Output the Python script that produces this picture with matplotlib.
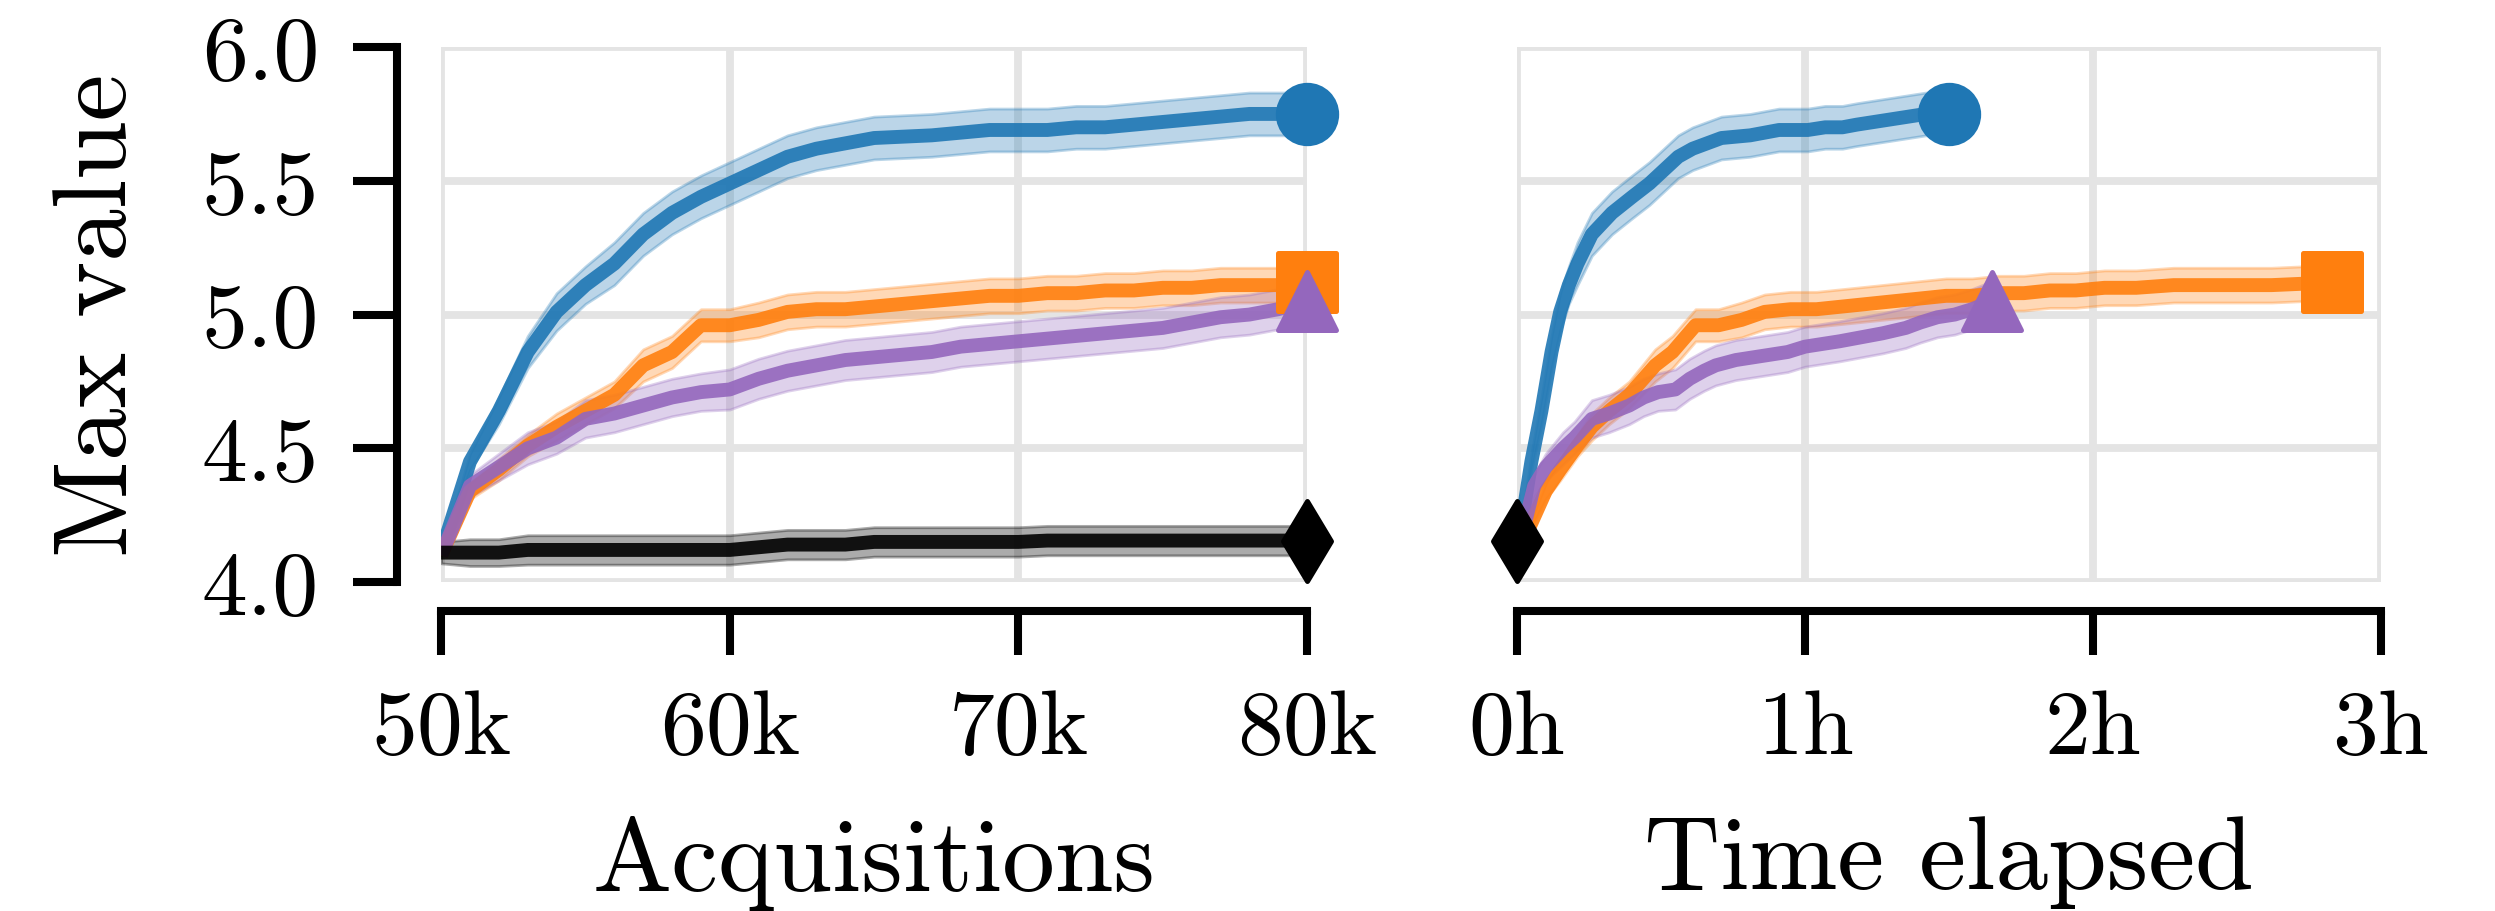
import numpy as np
import matplotlib.pyplot as plt
from matplotlib.markers import MarkerStyle

plt.rcParams['font.family'] = 'cmr10'
plt.rcParams['mathtext.fontset'] = 'cm'
plt.rcParams['axes.formatter.use_mathtext'] = True

# acquisitions (thousands)
acq_k = [50, 51, 52, 53, 54, 55, 56, 57, 58, 59, 60, 61, 62, 63, 64, 65,
         66, 67, 68, 69, 70, 71, 72, 73, 74, 75, 76, 77, 78, 79, 80]

# mean max value per method
blue = [4.11, 4.45, 4.64, 4.86, 5.01, 5.11, 5.19, 5.30, 5.38, 5.44, 5.49,
        5.54, 5.59, 5.62, 5.64, 5.66, 5.665, 5.67, 5.68, 5.69, 5.69, 5.69,
        5.70, 5.70, 5.71, 5.72, 5.73, 5.74, 5.75, 5.75, 5.75]
orange = [4.10, 4.34, 4.42, 4.51, 4.58, 4.64, 4.70, 4.81, 4.86, 4.96, 4.96,
          4.98, 5.01, 5.02, 5.02, 5.03, 5.04, 5.05, 5.06, 5.07, 5.07, 5.08,
          5.08, 5.09, 5.09, 5.10, 5.10, 5.11, 5.11, 5.11, 5.12]
purple = [4.10, 4.36, 4.43, 4.50, 4.54, 4.61, 4.63, 4.66, 4.69, 4.71, 4.72,
          4.76, 4.79, 4.81, 4.83, 4.84, 4.85, 4.86, 4.88, 4.89, 4.90, 4.91,
          4.92, 4.93, 4.94, 4.95, 4.97, 4.99, 5.00, 5.02, 5.05]
black = [4.11, 4.11, 4.11, 4.12, 4.12, 4.12, 4.12, 4.12, 4.12, 4.12, 4.12,
         4.13, 4.14, 4.14, 4.14, 4.15, 4.15, 4.15, 4.15, 4.15, 4.15, 4.155,
         4.155, 4.155, 4.155, 4.155, 4.155, 4.155, 4.155, 4.155, 4.155]

# spread (half width of shaded band)
blue_sd = [0.0, 0.03, 0.05, 0.06, 0.07, 0.07, 0.08, 0.08, 0.08, 0.08, 0.08,
           0.08, 0.08, 0.08, 0.08, 0.08, 0.08, 0.08, 0.08, 0.08, 0.08, 0.08,
           0.08, 0.08, 0.08, 0.08, 0.08, 0.08, 0.08, 0.08, 0.08]
orange_sd = [0.0, 0.03, 0.04, 0.04, 0.05, 0.05, 0.05, 0.06, 0.06, 0.06, 0.06,
             0.065, 0.065, 0.065, 0.065, 0.065, 0.065, 0.065, 0.065, 0.065,
             0.065, 0.065, 0.065, 0.065, 0.065, 0.065, 0.065, 0.065, 0.065,
             0.065, 0.065]
purple_sd = [0.0, 0.04, 0.05, 0.06, 0.06, 0.07, 0.07, 0.07, 0.07, 0.07, 0.075,
             0.075, 0.075, 0.075, 0.075, 0.075, 0.075, 0.075, 0.075, 0.075,
             0.075, 0.075, 0.075, 0.075, 0.075, 0.075, 0.075, 0.075, 0.075,
             0.075, 0.075]
black_sd = [0.04, 0.05, 0.05, 0.055, 0.055, 0.055, 0.055, 0.055, 0.055, 0.055,
            0.055, 0.055, 0.055, 0.055, 0.055, 0.055, 0.055, 0.055, 0.055,
            0.055, 0.055, 0.055, 0.055, 0.055, 0.055, 0.055, 0.055, 0.055,
            0.055, 0.055, 0.055]

# wall-clock hours at each acquisition count
blue_h = [0.0, 0.05, 0.085, 0.12, 0.15, 0.18, 0.21, 0.26, 0.33, 0.40, 0.46,
          0.51, 0.56, 0.61, 0.66, 0.71, 0.76, 0.81, 0.86, 0.91, 0.96, 1.01,
          1.07, 1.13, 1.18, 1.24, 1.30, 1.36, 1.42, 1.46, 1.50]
orange_h = [0.0, 0.10, 0.15, 0.21, 0.26, 0.32, 0.39, 0.48, 0.54, 0.62, 0.70,
            0.78, 0.86, 0.95, 1.04, 1.13, 1.22, 1.31, 1.40, 1.49, 1.58, 1.67,
            1.76, 1.85, 1.94, 2.04, 2.15, 2.28, 2.43, 2.62, 2.83]
purple_h = [0.0, 0.06, 0.10, 0.16, 0.20, 0.26, 0.32, 0.39, 0.44, 0.49, 0.55,
            0.60, 0.65, 0.69, 0.76, 0.82, 0.88, 0.94, 1.00, 1.06, 1.12, 1.17,
            1.22, 1.27, 1.31, 1.35, 1.40, 1.46, 1.52, 1.58, 1.65]
black_h = [0.0, 0.0, 0.0, 0.0, 0.0, 0.0, 0.0, 0.0, 0.0, 0.0, 0.0,
           0.0, 0.0, 0.0, 0.0, 0.0, 0.0, 0.0, 0.0, 0.0, 0.0, 0.0,
           0.0, 0.0, 0.0, 0.0, 0.0, 0.0, 0.0, 0.0, 0.0]

x_ticks = [50, 60, 70, 80]
x_labels = ['50k', '60k', '70k', '80k']
t_ticks = [0, 1, 2, 3]
t_labels = ['0h', '1h', '2h', '3h']
y_ticks = [4.0, 4.5, 5.0, 5.5, 6.0]

series = [
    (blue, blue_sd, blue_h, '#1f77b4', 'o'),
    (orange, orange_sd, orange_h, '#ff7f0e', 's'),
    (purple, purple_sd, purple_h, '#9467bd', '^'),
    (black, black_sd, black_h, 'black', 'd'),
]

fig = plt.figure(figsize=(12.475, 4.56), dpi=200)
ax1 = fig.add_axes([0.1768, 0.3607, 0.3471, 0.5866])
ax2 = fig.add_axes([0.6080, 0.3607, 0.3463, 0.5866])


def draw(ax, use_time):
    for mean, sd, hours, color, mk in series:
        mean = np.array(mean)
        sd = np.array(sd)
        x = np.array(hours) if use_time else np.array(acq_k)
        band_alpha = 0.33 if color == 'black' else 0.3
        ax.fill_between(x, mean - sd, mean + sd, color=color, alpha=band_alpha,
                        lw=1.0, zorder=2)
        ax.plot(x, mean, color=color, lw=5.0, alpha=0.9, zorder=3,
                solid_capstyle='butt')
        ms = 20.5 if mk == 'd' else 21
        ax.plot(x[-1], mean[-1], ls='none',
                marker=MarkerStyle(mk, joinstyle='round'),
                ms=ms, mew=1.8, color=color, mec=color, zorder=5, clip_on=False)

    ax.set_ylim(4.0, 6.0)
    ax.set_yticks(y_ticks)
    ax.grid(True, color='#e4e4e4', lw=2.8)
    ax.set_axisbelow(True)
    for side in ['top', 'right']:
        ax.spines[side].set_visible(False)
    ax.spines['bottom'].set_position(('outward', 10.5))
    ax.spines['left'].set_position(('outward', 16))
    for side in ['bottom', 'left']:
        ax.spines[side].set_linewidth(2.9)
    ax.tick_params(length=16, width=2.9, labelsize=33, pad=12)


draw(ax1, False)
ax1.set_xlim(50, 80)
ax1.set_xticks(x_ticks)
ax1.set_xticklabels(x_labels)
ax1.set_yticklabels(['4.0', '4.5', '5.0', '5.5', '6.0'])
ax1.set_xlabel('Acquisitions', fontsize=38, labelpad=16)
ax1.set_ylabel('Max value', fontsize=38, labelpad=20)

draw(ax2, True)
ax2.set_xlim(0, 3)
ax2.set_xticks(t_ticks)
ax2.set_xticklabels(t_labels)
ax2.spines['left'].set_visible(False)
ax2.tick_params(axis='y', left=False, labelleft=False)
ax2.set_xlabel('Time elapsed', fontsize=38, labelpad=16)

fig.savefig('out.png', dpi=200)
